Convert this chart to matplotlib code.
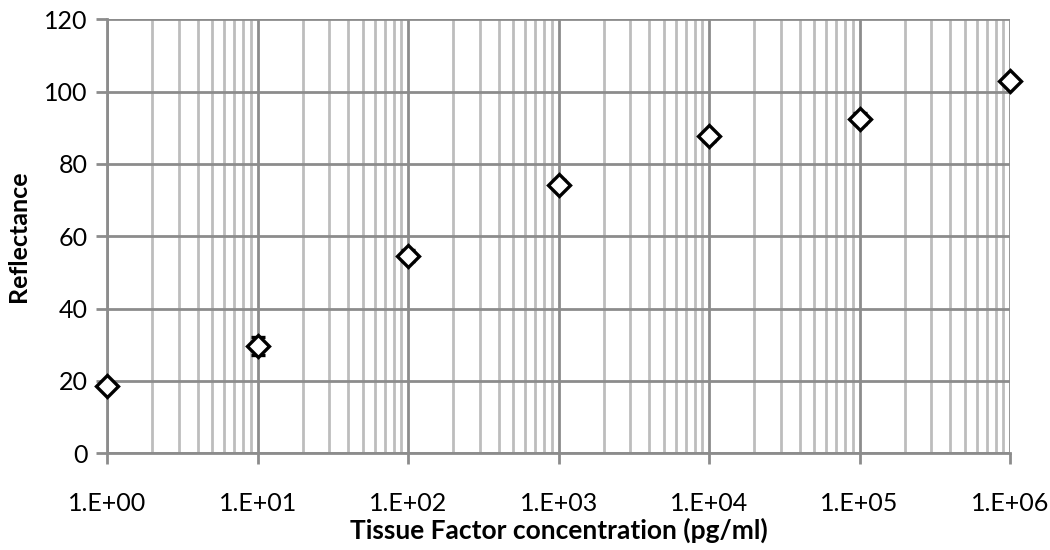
import matplotlib.pyplot as plt
import numpy as np
from matplotlib.ticker import LogLocator, NullFormatter

# Data
concentration = [1e0, 1e1, 1e2, 1e3, 1e4, 1e5, 1e6]
reflectance = [18.6, 29.6, 54.6, 74.3, 87.6, 92.5, 103.0]
errors = [1.2, 2.5, 1.5, 1.2, 1.2, 1.5, 1.0]

x_ticks = [1e0, 1e1, 1e2, 1e3, 1e4, 1e5, 1e6]
x_tick_labels = ['1.E+00', '1.E+01', '1.E+02', '1.E+03', '1.E+04', '1.E+05', '1.E+06']
y_ticks = [0, 20, 40, 60, 80, 100, 120]


def main():
    plt.rcParams['font.family'] = ['Lato', 'DejaVu Sans']
    fig = plt.figure(figsize=(10.5, 5.5), dpi=100)
    ax = fig.add_axes([0.102, 0.176, 0.86, 0.789])

    ax.errorbar(concentration, reflectance, yerr=errors, fmt='D', color='black',
                mfc='white', mec='black', markersize=11, mew=2.4,
                ecolor='black', elinewidth=1.5, capsize=5, capthick=1.5,
                zorder=5, clip_on=False)

    ax.set_xscale('log')
    ax.set_xlim(1, 1e6)
    ax.set_ylim(0, 120)
    ax.set_yticks(y_ticks)
    ax.set_xticks(x_ticks)
    ax.set_xticklabels(x_tick_labels)
    ax.xaxis.set_minor_locator(LogLocator(base=10, subs=np.arange(2, 10), numticks=100))
    ax.xaxis.set_minor_formatter(NullFormatter())

    ax.grid(which='major', color='#8c8c8c', linewidth=2)
    ax.grid(which='minor', axis='x', color='#bdbdbd', linewidth=2)
    ax.set_axisbelow(True)

    for side in ['top', 'right']:
        ax.spines[side].set_visible(False)
    for side in ['left', 'bottom']:
        ax.spines[side].set_color('#8c8c8c')
        ax.spines[side].set_linewidth(2)

    ax.tick_params(which='major', length=8, width=2, color='#8c8c8c', labelsize=18)
    ax.tick_params(axis='x', pad=20)
    ax.tick_params(axis='y', pad=6)
    ax.tick_params(which='minor', length=0)

    ax.set_xlabel('Tissue Factor concentration (pg/ml)', fontsize=19, fontweight='bold', labelpad=2)
    ax.set_ylabel('Reflectance', fontsize=18, fontweight='bold', labelpad=10)

    fig.savefig('out.png', dpi=100)


if __name__ == "__main__":
    main()
